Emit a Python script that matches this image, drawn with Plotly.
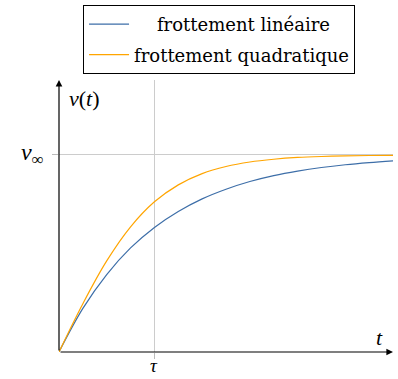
import plotly.graph_objects as go

# time in units of tau
t_vals = [0, 0.25, 0.5, 0.75, 1.0, 1.25, 1.5, 1.75, 2.0, 2.25, 2.5, 2.75, 3.0, 3.25, 3.5]
v_lineaire = [0, 0.221, 0.393, 0.528, 0.632, 0.713, 0.777, 0.826, 0.865, 0.895, 0.918, 0.936, 0.950, 0.961, 0.970]
v_quadratique = [0, 0.245, 0.462, 0.635, 0.762, 0.848, 0.905, 0.941, 0.964, 0.978, 0.987, 0.992, 0.995, 0.997, 0.998]
series_names = ["frottement linéaire", "frottement quadratique"]
x_tick_vals = [1]
x_tick_text = ["<i>τ</i>"]
y_tick_vals = [1]
y_tick_text = ["<i>v</i><sub>∞</sub>"]

SERIF = "DejaVu Serif"
MATH = "Liberation Serif"
BLUE = "#3d6ea8"
ORANGE = "#ffa500"
PAD = "\u00a0" * 4

fig = go.Figure()
fig.add_trace(go.Scatter(x=t_vals, y=v_lineaire, mode="lines", name=PAD + series_names[0],
                         legendgroup="lin",
                         line=dict(color=BLUE, width=1.2, shape="spline")))
fig.add_trace(go.Scatter(x=t_vals, y=v_quadratique, mode="lines", name=series_names[1],
                         legendgroup="quad",
                         line=dict(color=ORANGE, width=1.2, shape="spline")))

fig.update_layout(
    width=398, height=379,
    margin=dict(l=59, r=5, t=80, b=27, autoexpand=False),
    paper_bgcolor="white", plot_bgcolor="white",
    font=dict(family=SERIF, size=18, color="black"),
    showlegend=True,
    legend=dict(x=0.072, y=1.276, xanchor="left", yanchor="top",
                bordercolor="black", borderwidth=1, bgcolor="white",
                font=dict(family=SERIF, size=18), itemwidth=40,
                tracegroupgap=4),
    xaxis=dict(range=[0, 3.5], showline=False, zeroline=False, automargin=False,
               showgrid=True, gridcolor="#cccccc", gridwidth=1,
               tickvals=x_tick_vals, showticklabels=False,
               ticks="outside", ticklen=6, tickcolor="#bbbbbb"),
    yaxis=dict(range=[0, 1.38], showline=False, zeroline=False, automargin=False,
               showgrid=True, gridcolor="#cccccc", gridwidth=1,
               tickvals=y_tick_vals, showticklabels=False,
               ticks="outside", ticklen=6, tickcolor="#bbbbbb"),
)

# tick labels
fig.add_annotation(x=x_tick_vals[0], y=0, xref="x", yref="y", xanchor="center", yanchor="top",
                   yshift=-1, text=x_tick_text[0], showarrow=False,
                   font=dict(family=MATH, size=19))
fig.add_annotation(x=0, y=y_tick_vals[0], xref="x", yref="y", xanchor="right", yanchor="middle",
                   xshift=-13, yshift=1, text=y_tick_text[0], showarrow=False,
                   font=dict(family=MATH, size=24))

# axis arrows
fig.add_annotation(x=3.5, y=0, ax=0, ay=0, xref="x", yref="y", axref="x", ayref="y",
                   showarrow=True, arrowhead=2, arrowsize=1.1, arrowwidth=1.2,
                   arrowcolor="black", text="")
fig.add_annotation(x=0, y=1.38, ax=0, ay=0, xref="x", yref="y", axref="x", ayref="y",
                   showarrow=True, arrowhead=2, arrowsize=1.1, arrowwidth=1.2,
                   arrowcolor="black", text="")

# axis labels
fig.add_annotation(x=0.08, y=1.285, xref="x", yref="y", xanchor="left", yanchor="middle",
                   text="<i>v</i>(<i>t</i>)", showarrow=False,
                   font=dict(family=MATH, size=22))
fig.add_annotation(x=3.36, y=0.075, xref="x", yref="y", xanchor="center", yanchor="middle",
                   text="<i>t</i>", showarrow=False,
                   font=dict(family=MATH, size=22))

fig.write_html("out.html", config={"displayModeBar": False},
               post_script="document.body.style.margin='0';")
